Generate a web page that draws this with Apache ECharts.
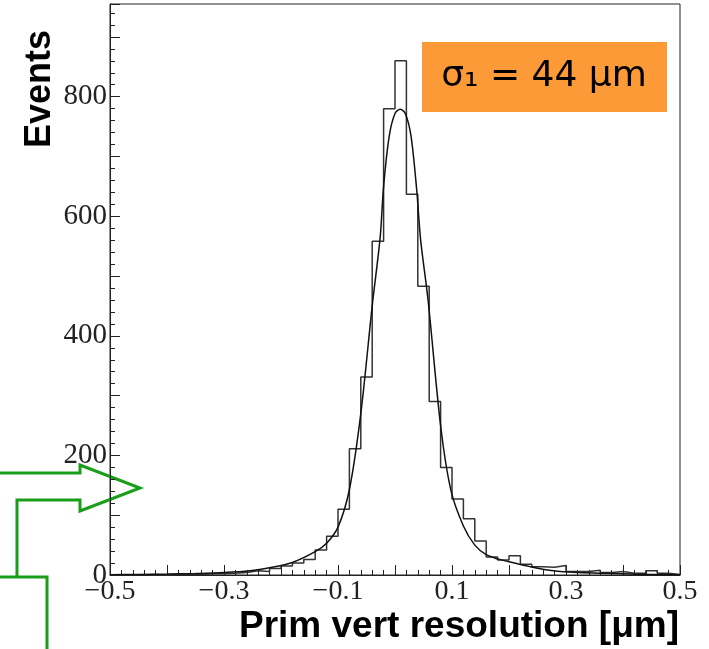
<!DOCTYPE html>
<html>
<head>
<meta charset="utf-8">
<script src="https://cdn.jsdelivr.net/npm/echarts@6/dist/echarts.min.js"></script>
<style>
  html, body { margin: 0; padding: 0; background: #fff; }
  #chart { width: 709px; height: 649px; }
</style>
</head>
<body>
<div id="chart"></div>
<script>
// histogram: 50 bins of 0.02 from -0.5 to 0.5
const binLo = -0.5
const binWidth = 0.02
const binCounts = [
  0, 0, 0, 1, 0, 1, 1, 1, 2, 2,
  3, 4, 7, 6, 11, 15, 20, 26, 42, 65,
  110, 211, 331, 558, 780, 860, 637, 483, 290, 180,
  127, 94, 57, 30, 25, 32, 18, 14, 13, 16,
  6, 6, 8, 4, 6, 3, 3, 7, 3, 1
]

// fitted curve
const fitX = [
  -0.5, -0.45, -0.4, -0.35, -0.3, -0.254, -0.22, -0.18, -0.14, -0.12,
  -0.1, -0.08, -0.06, -0.04, -0.026, -0.02, -0.01, 0.0, 0.009, 0.018,
  0.028, 0.038, 0.045, 0.058, 0.08, 0.098, 0.12, 0.14, 0.16, 0.18,
  0.2, 0.237, 0.278, 0.32, 0.36, 0.4, 0.45, 0.5
]
const fitY = [
  0.5, 1, 1.5, 2.5, 4, 7, 12, 21, 39, 53,
  80, 143, 270, 450, 565, 650, 735, 772, 779, 772,
  735, 645, 560, 460, 250, 142, 82, 50, 34, 27,
  22, 14, 7, 4, 3, 2, 1, 0.5
]

const xLabelValues = [-5, -3, -1, 1, 3, 5] // tenths
const yLabelStep = 200

// step outline points
const histData = binCounts.map((v, i) => [binLo + i * binWidth, v])
histData.push([binLo + binCounts.length * binWidth, binCounts[binCounts.length - 1]])
const fitData = fitX.map((x, i) => [x, fitY[i]])

const chart = echarts.init(document.getElementById('chart'))

const serif = 'Liberation Serif'
const green = '#1a9e1a'

const option = {
  animation: false,
  grid: {
    left: 110,
    right: 29,
    top: 4,
    bottom: 74,
    show: true,
    borderColor: '#222',
    borderWidth: 1,
    backgroundColor: 'transparent'
  },
  xAxis: {
    type: 'value',
    min: -0.5,
    max: 0.5,
    interval: 0.1,
    axisLine: { show: true, onZero: false, lineStyle: { color: '#222', width: 1 } },
    axisTick: { show: true, inside: true, length: 10, lineStyle: { color: '#222' } },
    minorTick: { show: true, splitNumber: 5, length: 5, lineStyle: { color: '#222' } },
    splitLine: { show: false },
    axisLabel: {
      margin: 3,
      fontFamily: serif,
      fontSize: 28,
      color: '#222',
      showMinLabel: true,
      showMaxLabel: true,
      formatter: (v) => {
        const k = Math.round(v * 10)
        if (!xLabelValues.includes(k)) return ''
        return (k < 0 ? '\u2212' : '') + (Math.abs(k) / 10).toFixed(1)
      }
    }
  },
  yAxis: {
    type: 'value',
    min: 0,
    max: 955,
    interval: 100,
    axisLine: { show: true, onZero: false, lineStyle: { color: '#222', width: 1 } },
    axisTick: { show: true, inside: true, length: 10, lineStyle: { color: '#222' } },
    minorTick: { show: true, splitNumber: 5, length: 5, lineStyle: { color: '#222' } },
    splitLine: { show: false },
    axisLabel: {
      margin: 3,
      fontFamily: serif,
      fontSize: 29,
      color: '#222',
      formatter: (v) => (Math.round(v) % yLabelStep === 0 ? String(Math.round(v)) : '')
    }
  },
  series: [
    {
      name: 'hist',
      type: 'line',
      step: 'end',
      data: histData,
      showSymbol: false,
      lineStyle: { color: '#333', width: 1.5 }
    },
    {
      name: 'fit',
      type: 'line',
      smooth: 0.3,
      data: fitData,
      showSymbol: false,
      lineStyle: { color: '#111', width: 1.5 }
    }
  ],
  graphic: [
    {
      type: 'text',
      x: 40,
      y: 30,
      rotation: Math.PI / 2,
      style: {
        text: 'Events',
        font: 'bold 36px "Liberation Sans"',
        fill: '#000',
        align: 'right',
        verticalAlign: 'middle'
      }
    },
    {
      type: 'text',
      x: 679,
      y: 627,
      style: {
        text: 'Prim vert resolution [\u03bcm]',
        font: 'bold 37px "Liberation Sans"',
        fill: '#000',
        align: 'right',
        verticalAlign: 'middle'
      }
    },
    {
      type: 'rect',
      shape: { x: 422, y: 42, width: 245, height: 70 },
      style: { fill: '#fd9a38' }
    },
    {
      type: 'text',
      x: 544,
      y: 77,
      style: {
        text: '\u03c3\u2081 = 44 \u03bcm',
        font: '36px "DejaVu Sans"',
        fill: '#000',
        align: 'center',
        verticalAlign: 'middle'
      }
    },
    {
      type: 'polyline',
      shape: { points: [[0, 473], [80, 473], [80, 465], [140, 488], [80, 511], [80, 500], [17, 500], [17, 577]] },
      style: { stroke: green, lineWidth: 3, fill: null }
    },
    {
      type: 'polyline',
      shape: { points: [[0, 577], [47, 577], [47, 649]] },
      style: { stroke: green, lineWidth: 3, fill: null }
    }
  ]
}

chart.setOption(option)
</script>
</body>
</html>
